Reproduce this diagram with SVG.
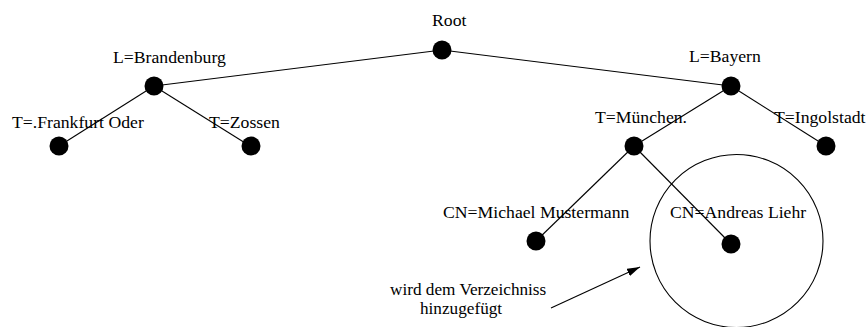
<svg xmlns="http://www.w3.org/2000/svg" width="866" height="327" viewBox="0 0 866 327">
<style>
text{font-family:'Liberation Serif','Times New Roman',serif;font-size:17.7px;fill:#000}
.s{font-size:17.2px}
.n{fill:#000}
.e{stroke:#000;stroke-width:1.1;fill:none}
</style>
<defs>
<marker id="ah" viewBox="0 0 13 8" refX="13" refY="4" markerWidth="13" markerHeight="8" markerUnits="userSpaceOnUse" orient="auto">
<path d="M0,0 L13,4 L0,8 Z" fill="#000"/>
</marker>
</defs>
<rect width="866" height="327" fill="#fff"/>
<g id="connectors">
<line class="e" x1="442" y1="50" x2="154" y2="86"/>
<line class="e" x1="442" y1="50" x2="731" y2="86"/>
<line class="e" x1="154" y1="86" x2="59" y2="146"/>
<line class="e" x1="154" y1="86" x2="250" y2="146"/>
<line class="e" x1="731" y1="86" x2="634" y2="146"/>
<line class="e" x1="731" y1="86" x2="826" y2="146"/>
<line class="e" x1="634" y1="146" x2="536" y2="241"/>
<line class="e" x1="634" y1="146" x2="731" y2="244"/>
<line class="e" x1="551" y1="308" x2="640" y2="267" marker-end="url(#ah)"/>
</g>
<g id="root"><circle class="n" cx="442" cy="50" r="9.5"/><text x="432" y="26">Root</text></g>
<g id="brandenburg"><circle class="n" cx="154" cy="86" r="9.5"/><text x="113" y="63">L=Brandenburg</text></g>
<g id="bayern"><circle class="n" cx="731" cy="86" r="9.5"/><text x="689" y="62">L=Bayern</text></g>
<g id="frankfurt"><circle class="n" cx="59" cy="146" r="9.5"/><text x="12" y="128">T=.Frankfurt Oder</text></g>
<g id="zossen"><circle class="n" cx="251" cy="146" r="9.5"/><text x="209" y="128">T=Zossen</text></g>
<g id="muenchen"><circle class="n" cx="634" cy="146" r="9.5"/><text x="595" y="123">T=München.</text></g>
<g id="ingolstadt"><circle class="n" cx="826" cy="146" r="9.5"/><text x="774" y="123">T=Ingolstadt</text></g>
<g id="mustermann"><circle class="n" cx="536" cy="241" r="9.5"/><text x="443" y="218">CN=Michael Mustermann</text></g>
<g id="liehr"><circle class="n" cx="731" cy="244" r="9.5"/><text x="670" y="218">CN=Andreas Liehr</text></g>
<g id="highlight"><circle class="e" cx="736.5" cy="241" r="86.5"/></g>
<g id="note"><text class="s" x="390" y="295">wird dem Verzeichniss</text><text class="s" x="420" y="314.3">hinzugefügt</text></g>
</svg>
